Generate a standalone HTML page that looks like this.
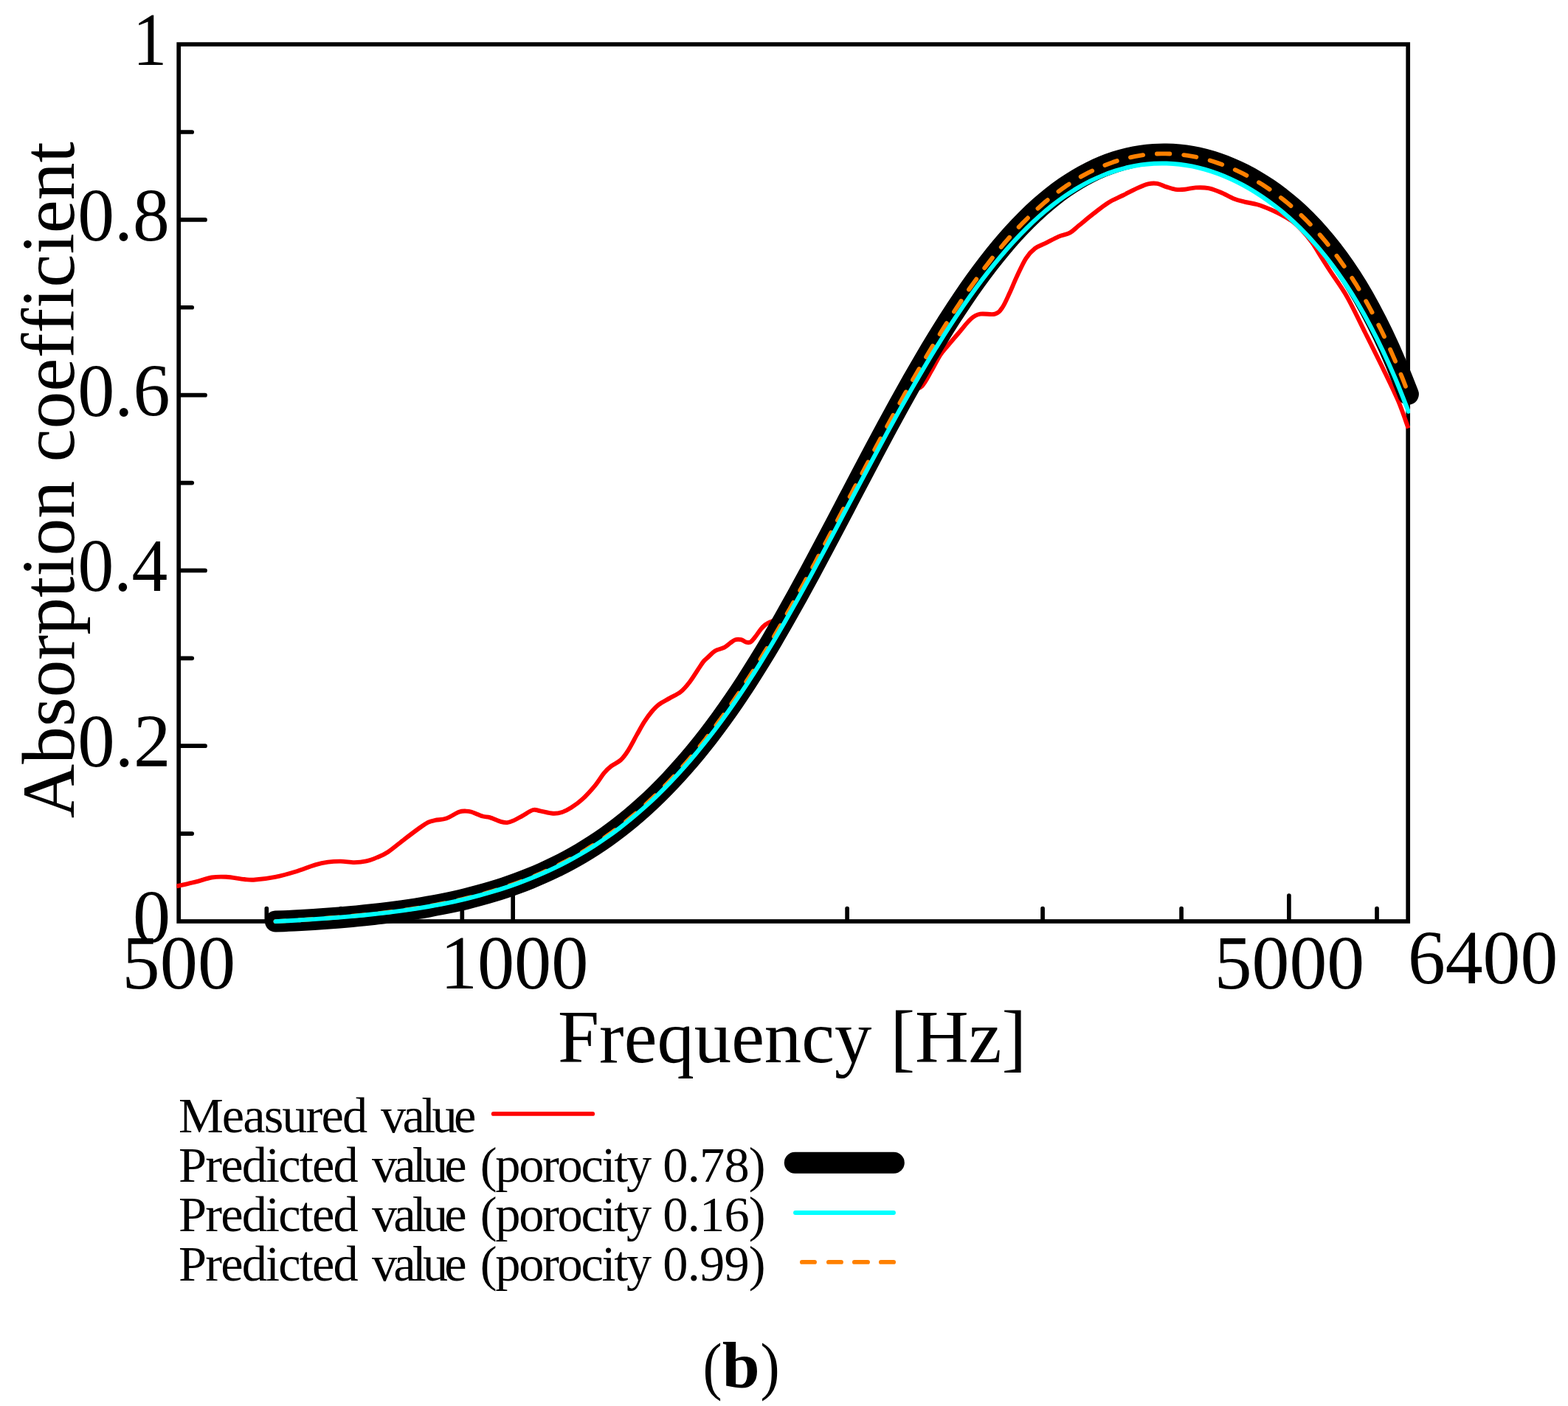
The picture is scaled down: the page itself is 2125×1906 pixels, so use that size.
<!DOCTYPE html>
<html lang="en"><head><meta charset="utf-8"><title>Absorption coefficient vs frequency</title>
<style>html,body{margin:0;padding:0;background:#fff;}body{width:2125px;height:1906px;overflow:hidden;}svg{display:block;}</style></head>
<body>
<svg width="2125" height="1906" viewBox="0 0 2125 1906">
<rect width="2125" height="1906" fill="#fff"/>
<g stroke="#000" stroke-width="5.7" fill="none" stroke-linecap="round">
<rect x="242.2" y="60.1" width="1666" height="1188.9" stroke-linejoin="miter"/>
<line x1="243.2" y1="1130.11" x2="260.2" y2="1130.11"/>
<line x1="243.2" y1="1011.22" x2="278" y2="1011.22"/>
<line x1="243.2" y1="892.33" x2="260.2" y2="892.33"/>
<line x1="243.2" y1="773.44" x2="278" y2="773.44"/>
<line x1="243.2" y1="654.55" x2="260.2" y2="654.55"/>
<line x1="243.2" y1="535.66" x2="278" y2="535.66"/>
<line x1="243.2" y1="416.77" x2="260.2" y2="416.77"/>
<line x1="243.2" y1="297.88" x2="278" y2="297.88"/>
<line x1="243.2" y1="178.99" x2="260.2" y2="178.99"/>
<line x1="361.34" y1="1248" x2="361.34" y2="1231.7"/>
<line x1="462.08" y1="1248" x2="462.08" y2="1231.7"/>
<line x1="549.34" y1="1248" x2="549.34" y2="1231.7"/>
<line x1="626.3" y1="1248" x2="626.3" y2="1231.7"/>
<line x1="695.15" y1="1248" x2="695.15" y2="1214"/>
<line x1="1148.11" y1="1248" x2="1148.11" y2="1231.7"/>
<line x1="1413.07" y1="1248" x2="1413.07" y2="1231.7"/>
<line x1="1601.06" y1="1248" x2="1601.06" y2="1231.7"/>
<line x1="1746.88" y1="1248" x2="1746.88" y2="1214"/>
<line x1="1866.03" y1="1248" x2="1866.03" y2="1231.7"/>
</g>
<clipPath id="cp"><rect x="239.35" y="0" width="1671.7" height="1906"/></clipPath>
<g fill="none" stroke-linejoin="round">
<path d="M239 1201.3C243.27 1200.37 256.63 1197.67 264.6 1195.7C272.57 1193.73 279.82 1190.65 286.8 1189.5C293.78 1188.35 299.1 1188.38 306.5 1188.8C313.9 1189.22 324.62 1191.38 331.2 1192C337.78 1192.62 339.03 1193.03 346 1192.5C352.97 1191.97 363.97 1190.6 373 1188.8C382.03 1187 391.15 1184.45 400.2 1181.7C409.25 1178.95 419.92 1174.48 427.3 1172.3C434.68 1170.12 438.75 1169.38 444.5 1168.6C450.25 1167.82 455.83 1167.52 461.8 1167.6C467.77 1167.68 474.55 1169.13 480.3 1169.1C486.05 1169.07 491.18 1168.52 496.3 1167.4C501.42 1166.28 506.08 1164.47 511 1162.4C515.92 1160.33 519.63 1159.1 525.8 1155C531.97 1150.9 541.02 1143.13 548 1137.8C554.98 1132.47 562.37 1126.82 567.7 1123C573.03 1119.18 576.3 1116.75 580 1114.9C583.7 1113.05 585.78 1112.8 589.9 1111.9C594.02 1111 599.35 1111.35 604.7 1109.5C610.05 1107.65 617.48 1102.45 622 1100.8C626.52 1099.15 628.93 1099.6 631.8 1099.6C634.67 1099.6 635.5 1099.65 639.2 1100.8C642.9 1101.95 649.9 1105.27 654 1106.5C658.1 1107.73 659.7 1106.97 663.8 1108.2C667.9 1109.43 674.68 1112.75 678.6 1113.9C682.52 1115.05 684.42 1115.35 687.3 1115.1C690.18 1114.85 692.42 1113.95 695.9 1112.4C699.38 1110.85 703.8 1108.2 708.2 1105.8C712.6 1103.4 718.32 1099.08 722.3 1098C726.28 1096.92 727.57 1098.52 732.1 1099.3C736.63 1100.08 744.55 1102.42 749.5 1102.7C754.45 1102.98 757.68 1102.32 761.8 1101C765.92 1099.68 769.67 1097.68 774.2 1094.8C778.73 1091.92 783.65 1088.65 789 1083.7C794.35 1078.75 801.35 1071.08 806.3 1065.1C811.25 1059.12 814.98 1052.25 818.7 1047.8C822.42 1043.35 824.88 1041.28 828.6 1038.4C832.32 1035.52 837.3 1033.88 841 1030.5C844.7 1027.12 847.1 1023.87 850.8 1018.1C854.5 1012.33 859.48 1002.48 863.2 995.9C866.92 989.32 869.8 983.75 873.1 978.6C876.4 973.45 879.7 968.92 883 965C886.3 961.08 888.78 958.2 892.9 955.1C897.02 952 902.75 949.28 907.7 946.4C912.65 943.52 918.07 941.5 922.6 937.8C927.13 934.1 930.78 929.57 934.9 924.2C939.02 918.83 944.12 910.3 947.3 905.6C950.48 900.9 951.88 898.52 954 896C956.12 893.48 957.52 892.75 960 890.5C962.48 888.25 965.27 884.65 968.9 882.5C972.53 880.35 978.33 879.4 981.8 877.6C985.27 875.8 987.23 873.43 989.7 871.7C992.17 869.97 994.13 867.95 996.6 867.2C999.07 866.45 1002.03 866.62 1004.5 867.2C1006.97 867.78 1009.25 870.2 1011.4 870.7C1013.55 871.2 1015.42 871.37 1017.4 870.2C1019.38 869.03 1021 866.58 1023.3 863.7C1025.6 860.82 1028.88 855.7 1031.2 852.9C1033.52 850.1 1035.4 848.38 1037.2 846.9C1039 845.42 1039.2 845.48 1042 844C1044.8 842.52 1049.33 841.67 1054 838C1058.67 834.33 1064 829.33 1070 822C1076 814.67 1081.67 807.33 1090 794C1098.33 780.67 1108.33 763.33 1120 742C1131.67 720.67 1146.67 691.33 1160 666C1173.33 640.67 1188 611.83 1200 590C1212 568.17 1223.75 546.1 1232 535C1240.25 523.9 1244.53 528.63 1249.5 523.4C1254.47 518.17 1257.68 510.6 1261.8 503.6C1265.92 496.6 1270.48 487.17 1274.2 481.4C1277.92 475.63 1279.98 473.95 1284.1 469C1288.22 464.05 1293.55 457.88 1298.9 451.7C1304.25 445.52 1311.25 436.23 1316.2 431.9C1321.15 427.57 1323.23 426.73 1328.6 425.7C1333.97 424.67 1343.45 427.13 1348.4 425.7C1353.35 424.27 1355 421.83 1358.3 417.1C1361.6 412.37 1364.92 404.32 1368.2 397.3C1371.48 390.28 1374.3 382.83 1378 375C1381.7 367.17 1386.27 356.68 1390.4 350.3C1394.53 343.92 1398.27 340.2 1402.8 336.7C1407.33 333.2 1412.25 331.98 1417.6 329.3C1422.95 326.62 1429.53 322.87 1434.9 320.6C1440.27 318.33 1445.27 318.17 1449.8 315.7C1454.33 313.23 1456.75 310.13 1462.1 305.8C1467.45 301.47 1475.3 294.85 1481.9 289.7C1488.5 284.55 1495.1 279.02 1501.7 274.9C1508.3 270.78 1514.92 268.3 1521.5 265C1528.08 261.7 1535.43 257.7 1541.2 255.1C1546.97 252.5 1551.57 250.43 1556.1 249.4C1560.63 248.37 1564.28 248.23 1568.4 248.9C1572.52 249.57 1576.67 252.08 1580.8 253.4C1584.93 254.72 1589.08 256.23 1593.2 256.8C1597.32 257.37 1600.97 257.2 1605.5 256.8C1610.03 256.4 1615.03 254.68 1620.4 254.4C1625.77 254.12 1632.03 254.03 1637.7 255.1C1643.37 256.17 1648.73 258.45 1654.4 260.8C1660.07 263.15 1666.35 267.07 1671.7 269.2C1677.05 271.33 1681.13 272.25 1686.5 273.6C1691.87 274.95 1697.72 275.43 1703.9 277.3C1710.08 279.17 1717.83 282.32 1723.6 284.8C1729.37 287.28 1733.77 289.58 1738.5 292.2C1743.23 294.82 1747.58 297.07 1752 300.5C1756.42 303.93 1760.67 308.13 1765 312.8C1769.33 317.47 1774.18 323.27 1778 328.5C1781.82 333.73 1783.77 337.68 1787.9 344.2C1792.03 350.72 1796.53 357.93 1802.8 367.6C1809.07 377.27 1817.55 388.18 1825.5 402.2C1833.45 416.22 1842.25 435.22 1850.5 451.7C1858.75 468.18 1867.62 485.85 1875 501.1C1882.38 516.35 1889.2 529.97 1894.8 543.2C1900.4 556.43 1906.3 574.28 1908.6 580.5" stroke="#ff0000" stroke-width="5.9" clip-path="url(#cp)"/>
<path d="M373.5 1249.11C376.38 1248.99 385 1248.63 390.75 1248.38C396.5 1248.13 402.24 1247.9 407.99 1247.59C413.74 1247.28 419.49 1246.92 425.24 1246.54C430.99 1246.16 436.73 1245.73 442.48 1245.3C448.23 1244.87 453.98 1244.42 459.73 1243.94C465.48 1243.46 471.23 1242.97 476.98 1242.44C482.73 1241.91 488.47 1241.37 494.22 1240.78C499.97 1240.19 505.72 1239.58 511.47 1238.93C517.22 1238.28 522.96 1237.6 528.71 1236.87C534.46 1236.14 540.21 1235.38 545.96 1234.57C551.71 1233.76 557.46 1232.9 563.21 1231.99C568.96 1231.08 574.7 1230.13 580.45 1229.11C586.2 1228.09 591.95 1227.03 597.7 1225.89C603.45 1224.76 609.19 1223.57 614.94 1222.3C620.69 1221.03 626.44 1219.71 632.19 1218.3C637.94 1216.89 643.69 1215.41 649.44 1213.85C655.19 1212.29 660.93 1210.65 666.68 1208.92C672.43 1207.19 678.18 1205.37 683.93 1203.45C689.68 1201.53 695.43 1199.52 701.18 1197.4C706.93 1195.28 712.67 1193.07 718.42 1190.73C724.17 1188.39 729.92 1185.95 735.67 1183.38C741.42 1180.81 747.16 1178.13 752.91 1175.3C758.66 1172.47 764.41 1169.52 770.16 1166.42C775.91 1163.32 781.66 1160.08 787.41 1156.68C793.16 1153.28 798.9 1149.74 804.65 1146.01C810.4 1142.28 816.15 1138.4 821.9 1134.33C827.65 1130.26 833.39 1126.02 839.14 1121.58C844.89 1117.14 850.64 1112.51 856.39 1107.68C862.14 1102.85 867.89 1097.82 873.64 1092.58C879.39 1087.34 885.13 1081.89 890.88 1076.23C896.63 1070.57 902.38 1064.7 908.13 1058.61C913.88 1052.52 919.62 1046.22 925.37 1039.69C931.12 1033.16 936.87 1026.43 942.62 1019.45C948.37 1012.47 954.12 1005.28 959.87 997.83C965.62 990.38 971.36 982.71 977.11 974.78C982.86 966.85 988.61 958.68 994.36 950.27C1000.11 941.86 1005.85 933.19 1011.6 924.3C1017.35 915.41 1023.1 906.28 1028.85 896.94C1034.6 887.6 1040.35 878.03 1046.1 868.28C1051.85 858.53 1057.59 848.55 1063.34 838.44C1069.09 828.33 1074.84 818.01 1080.59 807.6C1086.34 797.19 1092.08 786.6 1097.83 775.95C1103.58 765.3 1109.33 754.5 1115.08 743.68C1120.83 732.85 1126.58 721.93 1132.33 711C1138.08 700.07 1143.82 689.07 1149.57 678.1C1155.32 667.13 1161.07 656.14 1166.82 645.21C1172.57 634.28 1178.32 623.35 1184.07 612.52C1189.82 601.69 1195.56 590.89 1201.31 580.24C1207.06 569.59 1212.81 559.01 1218.56 548.6C1224.31 538.19 1230.05 527.88 1235.8 517.76C1241.55 507.64 1247.3 497.66 1253.05 487.88C1258.8 478.1 1264.55 468.49 1270.3 459.1C1276.05 449.71 1281.79 440.5 1287.54 431.54C1293.29 422.58 1299.04 413.81 1304.79 405.32C1310.54 396.82 1316.28 388.56 1322.03 380.57C1327.78 372.58 1333.53 364.84 1339.28 357.39C1345.03 349.94 1350.78 342.75 1356.53 335.85C1362.28 328.96 1368.02 322.34 1373.77 316.02C1379.52 309.7 1385.27 303.67 1391.02 297.93C1396.77 292.19 1402.51 286.76 1408.26 281.61C1414.01 276.46 1419.76 271.61 1425.51 267.04C1431.26 262.47 1437.01 258.2 1442.76 254.21C1448.51 250.22 1454.25 246.52 1460 243.08C1465.75 239.64 1471.5 236.49 1477.25 233.59C1483 230.69 1488.74 228.07 1494.49 225.7C1500.24 223.33 1505.99 221.23 1511.74 219.38C1517.49 217.53 1523.24 215.92 1528.99 214.57C1534.74 213.22 1540.48 212.11 1546.23 211.25C1551.98 210.39 1557.73 209.77 1563.48 209.39C1569.23 209.01 1574.97 208.88 1580.72 208.97C1586.47 209.06 1592.22 209.4 1597.97 209.96C1603.72 210.53 1609.47 211.33 1615.22 212.36C1620.97 213.39 1626.71 214.65 1632.46 216.14C1638.21 217.63 1643.96 219.35 1649.71 221.3C1655.46 223.25 1661.21 225.43 1666.96 227.84C1672.71 230.25 1678.45 232.89 1684.2 235.78C1689.95 238.67 1695.7 241.78 1701.45 245.16C1707.2 248.54 1712.94 252.16 1718.69 256.07C1724.44 259.98 1730.19 264.14 1735.94 268.62C1741.69 273.1 1747.44 277.85 1753.19 282.96C1758.94 288.07 1764.68 293.47 1770.43 299.27C1776.18 305.07 1781.93 311.19 1787.68 317.75C1793.43 324.31 1799.17 331.24 1804.92 338.66C1810.67 346.08 1816.42 353.88 1822.17 362.25C1827.92 370.62 1833.67 379.39 1839.42 388.86C1845.17 398.33 1850.91 408.36 1856.66 419.06C1862.41 429.76 1868.16 441.02 1873.91 453.06C1879.66 465.1 1885.4 477.76 1891.15 491.3C1896.9 504.84 1905.53 527.14 1908.4 534.31" stroke="#000" stroke-width="29" stroke-linecap="round"/>
<path d="M373.5 1249.1L377.9 1248.9 382.4 1248.6 386.8 1248.4M405.6 1247.2L411.3 1246.9 417.1 1246.5 422.9 1246.1M441.7 1244.8L447.5 1244.3 453.2 1243.9 459 1243.4M477.7 1241.8L483.5 1241.2 489.3 1240.7 495.1 1240.1M513.8 1238.1L519.5 1237.4 525.3 1236.7 531 1236M549.7 1233.4L555.4 1232.6 561.1 1231.7 566.9 1230.8M585.4 1227.6L591.1 1226.6 596.8 1225.5 602.5 1224.3M620.8 1220.4L626.5 1219.1 632.1 1217.7 637.8 1216.3M655.9 1211.5L661.5 1209.9 667.1 1208.2 672.6 1206.5M690.5 1200.6L695.9 1198.7 701.4 1196.7 706.8 1194.7M724.3 1187.7L729.6 1185.4 734.9 1183.1 740.2 1180.7M757.2 1172.6L762.3 1170 767.5 1167.3 772.6 1164.5M788.9 1155.2L793.9 1152.2 798.8 1149.1 803.7 1146M819.3 1135.6L824 1132.2 828.7 1128.8 833.4 1125.4M848.2 1113.8L852.7 1110.1 857.2 1106.4 861.6 1102.7M875.4 1090.4L879.6 1086.4 883.8 1082.4 888 1078.4M901.1 1065.4L905.1 1061.2 909.1 1057 913.1 1052.7M925.4 1039L929.3 1034.6 933 1030.3 936.8 1025.8M948.6 1011.6L952.2 1007 955.8 1002.5 959.3 997.9M970.5 983.2L973.9 978.5 977.4 973.8 980.7 969.1M991.4 954L994.7 949.2 997.9 944.4 1001.2 939.6M1011.3 924.2L1014.4 919.3 1017.6 914.4 1020.7 909.5M1030.4 893.8L1033.4 888.8 1036.4 883.9 1039.4 878.9M1048.9 863L1051.8 858 1054.7 852.9 1057.6 847.9M1066.7 831.8L1069.6 826.8 1072.4 821.7 1075.2 816.7M1084.2 800.4L1087 795.4 1089.8 790.3 1092.5 785.2M1101.3 768.9L1104.1 763.8 1106.8 758.6 1109.5 753.5M1118.2 737.2L1120.9 732 1123.6 726.9 1126.3 721.8M1135 705.4L1137.7 700.2 1140.4 695.1 1143.1 689.9M1151.7 673.5L1154.4 668.4 1157 663.2 1159.7 658.1M1168.4 641.7L1171.1 636.5 1173.8 631.4 1176.5 626.3M1185.2 609.8L1187.9 604.7 1190.6 599.6 1193.4 594.5M1202.1 578.1L1204.9 573 1207.7 567.9 1210.4 562.8M1219.4 546.5L1222.2 541.4 1225 536.3 1227.9 531.3M1237 515L1239.9 510 1242.8 505 1245.7 500M1255.1 483.9L1258 478.9 1261 473.9 1264 468.9M1273.7 453L1276.7 448 1279.8 443.1 1282.9 438.2M1293 422.5L1296.2 417.6 1299.4 412.8 1302.6 408M1313.1 392.5L1316.5 387.8 1319.8 383.1 1323.2 378.4M1334.3 363.3L1337.8 358.7 1341.4 354.1 1344.9 349.5M1356.8 335L1360.5 330.5 1364.3 326.1 1368.1 321.8M1380.7 307.9L1384.7 303.7 1388.8 299.6 1392.9 295.5M1406.5 282.6L1410.9 278.7 1415.2 274.9 1419.7 271.2M1434.5 259.6L1439.2 256.2 1443.9 252.8 1448.7 249.6M1464.7 239.7L1469.8 236.9 1474.9 234.2 1480.1 231.6M1497.4 223.9L1502.8 221.9 1508.2 219.9 1513.8 218.1M1532 213.3L1537.7 212.1 1543.4 211.1 1549.1 210.2M1567.9 208.5L1573.7 208.4 1579.5 208.4 1585.3 208.5M1604.2 210.1L1609.9 210.9 1615.7 211.8 1621.3 212.9M1639.7 217.5L1645.3 219.2 1650.8 221.1 1656.2 223M1673.8 230.2L1679.1 232.7 1684.3 235.2 1689.4 237.9M1706 247.3L1710.9 250.3 1715.8 253.5 1720.6 256.7M1735.9 268L1740.5 271.6 1745 275.3 1749.4 279M1763.5 291.9L1767.7 295.9 1771.8 300 1775.8 304.2M1788.7 318.3L1792.5 322.7 1796.2 327.1 1799.8 331.6M1811.5 346.8L1815 351.5 1818.3 356.2 1821.7 360.9M1832.3 376.9L1835.4 381.8 1838.5 386.7 1841.5 391.7M1851.2 408.3L1854 413.3 1856.8 418.4 1859.5 423.5M1868.3 440.6L1870.9 445.8 1873.5 451 1876 456.3M1884.1 473.8L1886.4 479.1 1888.7 484.4 1891 489.7M1898.5 507.5L1900.7 512.9 1902.8 518.3 1904.9 523.7" stroke="#ff8000" stroke-width="5.9" stroke-linecap="round"/>
<path d="M373.5 1249.11C376.38 1248.95 385 1248.5 390.75 1248.18C396.5 1247.86 402.25 1247.53 408 1247.18C413.75 1246.83 419.5 1246.48 425.25 1246.1C431 1245.72 436.75 1245.32 442.5 1244.9C448.25 1244.48 454 1244.05 459.75 1243.59C465.5 1243.13 471.25 1242.64 477 1242.13C482.75 1241.62 488.5 1241.08 494.25 1240.5C500 1239.92 505.75 1239.32 511.5 1238.68C517.25 1238.04 523.01 1237.37 528.76 1236.65C534.51 1235.93 540.26 1235.18 546.01 1234.38C551.76 1233.58 557.51 1232.74 563.26 1231.84C569.01 1230.94 574.76 1229.99 580.51 1228.99C586.26 1227.99 592.01 1226.94 597.76 1225.82C603.51 1224.7 609.26 1223.52 615.01 1222.27C620.76 1221.02 626.51 1219.7 632.26 1218.31C638.01 1216.92 643.76 1215.47 649.51 1213.92C655.26 1212.38 661.01 1210.75 666.76 1209.04C672.51 1207.33 678.26 1205.54 684.01 1203.64C689.76 1201.74 695.51 1199.75 701.26 1197.66C707.01 1195.57 712.76 1193.39 718.51 1191.08C724.26 1188.77 730.01 1186.36 735.76 1183.82C741.51 1181.28 747.26 1178.62 753.01 1175.83C758.76 1173.04 764.51 1170.12 770.26 1167.06C776.01 1164 781.76 1160.81 787.51 1157.45C793.26 1154.09 799.01 1150.59 804.76 1146.91C810.51 1143.23 816.26 1139.41 822.01 1135.39C827.76 1131.37 833.52 1127.19 839.27 1122.8C845.02 1118.41 850.77 1113.84 856.52 1109.07C862.27 1104.3 868.02 1099.34 873.77 1094.16C879.52 1088.99 885.27 1083.61 891.02 1078.02C896.77 1072.43 902.52 1066.64 908.27 1060.63C914.02 1054.62 919.77 1048.4 925.52 1041.96C931.27 1035.52 937.02 1028.88 942.77 1021.99C948.52 1015.11 954.27 1008 960.02 1000.65C965.77 993.3 971.52 985.73 977.27 977.91C983.02 970.09 988.77 962.02 994.52 953.72C1000.27 945.42 1006.02 936.87 1011.77 928.1C1017.52 919.33 1023.27 910.32 1029.02 901.1C1034.77 891.88 1040.52 882.43 1046.27 872.8C1052.02 863.17 1057.77 853.31 1063.52 843.32C1069.27 833.33 1075.02 823.14 1080.77 812.85C1086.52 802.56 1092.27 792.09 1098.02 781.55C1103.77 771.01 1109.52 760.34 1115.27 749.63C1121.02 738.92 1126.77 728.11 1132.52 717.29C1138.27 706.47 1144.03 695.58 1149.78 684.73C1155.53 673.88 1161.28 662.99 1167.03 652.17C1172.78 641.35 1178.53 630.54 1184.28 619.83C1190.03 609.12 1195.78 598.45 1201.53 587.92C1207.28 577.39 1213.03 566.93 1218.78 556.65C1224.53 546.37 1230.28 536.2 1236.03 526.21C1241.78 516.23 1247.53 506.38 1253.28 496.74C1259.03 487.1 1264.78 477.62 1270.53 468.37C1276.28 459.12 1282.03 450.05 1287.78 441.22C1293.53 432.39 1299.28 423.77 1305.03 415.4C1310.78 407.03 1316.53 398.88 1322.28 391.01C1328.03 383.13 1333.78 375.5 1339.53 368.15C1345.28 360.79 1351.03 353.69 1356.78 346.88C1362.53 340.06 1368.28 333.52 1374.03 327.26C1379.78 321 1385.53 315.02 1391.28 309.34C1397.03 303.65 1402.78 298.26 1408.53 293.15C1414.28 288.04 1420.03 283.22 1425.78 278.68C1431.53 274.14 1437.28 269.9 1443.03 265.93C1448.78 261.96 1454.54 258.29 1460.29 254.87C1466.04 251.46 1471.79 248.32 1477.54 245.44C1483.29 242.56 1489.04 239.96 1494.79 237.61C1500.54 235.26 1506.29 233.19 1512.04 231.36C1517.79 229.53 1523.54 227.96 1529.29 226.64C1535.04 225.32 1540.79 224.26 1546.54 223.45C1552.29 222.63 1558.04 222.07 1563.79 221.75C1569.54 221.43 1575.29 221.36 1581.04 221.53C1586.79 221.7 1592.54 222.11 1598.29 222.77C1604.04 223.43 1609.79 224.33 1615.54 225.48C1621.29 226.63 1627.04 228.02 1632.79 229.65C1638.54 231.28 1644.29 233.16 1650.04 235.28C1655.79 237.4 1661.54 239.76 1667.29 242.36C1673.04 244.97 1678.79 247.81 1684.54 250.91C1690.29 254.01 1696.04 257.34 1701.79 260.96C1707.54 264.57 1713.29 268.44 1719.04 272.6C1724.79 276.76 1730.54 281.16 1736.29 285.9C1742.04 290.64 1747.79 295.66 1753.54 301.03C1759.29 306.4 1765.05 312.06 1770.8 318.13C1776.55 324.19 1782.3 330.59 1788.05 337.42C1793.8 344.25 1799.55 351.43 1805.3 359.11C1811.05 366.79 1816.8 374.87 1822.55 383.49C1828.3 392.11 1834.05 401.16 1839.8 410.83C1845.55 420.5 1851.3 430.66 1857.05 441.51C1862.8 452.36 1868.55 463.75 1874.3 475.91C1880.05 488.08 1885.8 500.85 1891.55 514.5C1897.3 528.15 1905.92 550.57 1908.8 557.79" stroke="#00ffff" stroke-width="5.9" stroke-linecap="round" clip-path="url(#cp)"/>
</g>
<g fill="none" stroke-linecap="round">
<line x1="668.75" y1="1509.9" x2="803.15" y2="1509.9" stroke="#ff0000" stroke-width="5.9"/>
<line x1="1077.3" y1="1576.3" x2="1211.3" y2="1576.3" stroke="#000" stroke-width="29"/>
<line x1="1078" y1="1644" x2="1211" y2="1644" stroke="#00ffff" stroke-width="5.9"/>
<line x1="1086.9" y1="1710.9" x2="1104" y2="1710.9" stroke="#ff8000" stroke-width="5.9"/>
<line x1="1122.9" y1="1710.9" x2="1140" y2="1710.9" stroke="#ff8000" stroke-width="5.9"/>
<line x1="1157.9" y1="1710.9" x2="1176" y2="1710.9" stroke="#ff8000" stroke-width="5.9"/>
<line x1="1193.9" y1="1710.9" x2="1211.1" y2="1710.9" stroke="#ff8000" stroke-width="5.9"/>
</g>
<g font-family="'Liberation Serif', 'DejaVu Serif', serif" fill="#000" style="font-variant-ligatures:none;font-kerning:none">
<text transform="translate(179.99 88.1) scale(0.9003 1)" font-size="102.5">1</text>
<text transform="translate(105.32 325.88) scale(0.9714 1)" font-size="102.5">0.8</text>
<text transform="translate(105.29 563.66) scale(0.9773 1)" font-size="102.5">0.6</text>
<text transform="translate(105.4 801.44) scale(0.9511 1)" font-size="102.5">0.4</text>
<text transform="translate(105.27 1039.22) scale(0.9841 1)" font-size="102.5">0.2</text>
<text transform="translate(179.9 1277) scale(0.9988 1)" font-size="102.5">0</text>
<text transform="translate(165.56 1340.3) scale(0.9967 1)" font-size="102.7">500</text>
<text transform="translate(596.78 1340.3) scale(0.9763 1)" font-size="102.7">1000</text>
<text transform="translate(1645.69 1340.3) scale(0.9911 1)" font-size="102.7">5000</text>
<text transform="translate(1907.92 1332.8) scale(0.9900 1)" font-size="102.7">6400</text>
<text transform="translate(100.3 1109.22) rotate(-90) scale(0.9914 1)" font-size="102.5">Absorption coefficient</text>
<text transform="translate(756.08 1439.9) scale(0.9830 1)" font-size="102.5">Frequency [Hz]</text>
<text y="1535" font-size="68.4"><tspan x="241.95" textLength="256.13" lengthAdjust="spacing">Measured</tspan> <tspan x="516.1" textLength="129.33" lengthAdjust="spacing">value</tspan></text>
<text y="1602" font-size="68.4"><tspan x="241.95" textLength="243.83" lengthAdjust="spacing">Predicted</tspan> <tspan x="503.9" textLength="128.83" lengthAdjust="spacing">value</tspan> <tspan x="650.82" textLength="232.36" lengthAdjust="spacing">(porocity</tspan> <tspan x="898.36" textLength="139.28" lengthAdjust="spacing">0.78)</tspan></text>
<text y="1669" font-size="68.4"><tspan x="241.95" textLength="243.83" lengthAdjust="spacing">Predicted</tspan> <tspan x="503.9" textLength="128.83" lengthAdjust="spacing">value</tspan> <tspan x="650.82" textLength="232.36" lengthAdjust="spacing">(porocity</tspan> <tspan x="898.36" textLength="139.28" lengthAdjust="spacing">0.16)</tspan></text>
<text y="1736" font-size="68.4"><tspan x="241.95" textLength="243.83" lengthAdjust="spacing">Predicted</tspan> <tspan x="503.9" textLength="128.83" lengthAdjust="spacing">value</tspan> <tspan x="650.82" textLength="232.36" lengthAdjust="spacing">(porocity</tspan> <tspan x="898.36" textLength="139.28" lengthAdjust="spacing">0.99)</tspan></text>
<text y="1880.6" font-size="86.3"><tspan x="952.57" textLength="26.12" lengthAdjust="spacingAndGlyphs">(</tspan><tspan x="978.73" textLength="50.95" lengthAdjust="spacingAndGlyphs" font-weight="bold" font-size="89.3">b</tspan><tspan x="1030.45" textLength="26.13" lengthAdjust="spacingAndGlyphs">)</tspan></text>
</g>
</svg>
</body></html>
